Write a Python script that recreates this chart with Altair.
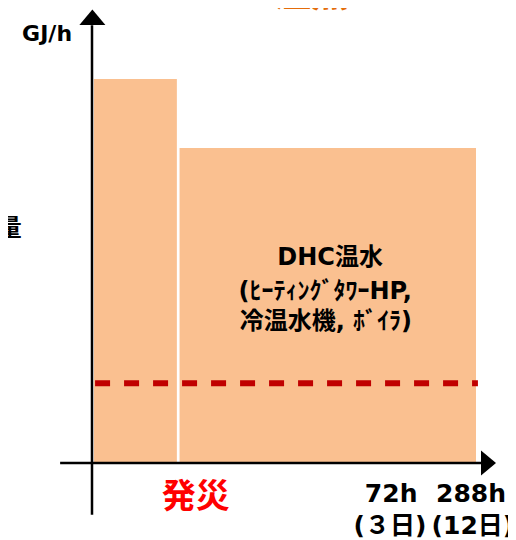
import altair as alt
import pandas as pd

# ---- schematic data (arbitrary units: x = time axis, y = heat GJ/h) ----
bar_names = ["発災直後", "DHC温水"]
bar_x0 = [0.5, 22.8]
bar_x1 = [22.1, 100.0]
bar_heat = [100.0, 82.0]

threshold_x = [0.8, 100.5]
threshold_level = [20.8, 20.8]

axis_x_start, axis_x_end = -8.3, 101.3
axis_y_start, axis_y_end = -13.5, 114.0

bar_text = ["DHC温水", "(ﾋｰﾃｨﾝｸﾞﾀﾜｰHP,", "冷温水機, ﾎﾞｲﾗ)"]
bar_text_x = [62.0, 60.7, 60.9]
bar_text_y = [53.4, 44.5, 36.7]

tick_labels = ["72h", "288h"]
tick_sub = ["(３日)", "(12日)"]
tick_x = [77.9, 98.7]
tick_sub_x = [77.6, 99.2]
tick_y = [-8.1, -8.1]
tick_sub_y = [-16.4, -16.4]

X_DOMAIN = [-21.875, 108.333]
Y_DOMAIN = [-20.052, 118.49]

FONT = "DejaVu Sans, Noto Sans CJK JP"

xs = alt.Scale(domain=X_DOMAIN, nice=False, zero=False)
ys = alt.Scale(domain=Y_DOMAIN, nice=False, zero=False)


def X(f):
    return alt.X(f, type="quantitative", scale=xs, axis=None)


def Y(f):
    return alt.Y(f, type="quantitative", scale=ys, axis=None)


bars_df = pd.DataFrame({"name": bar_names, "x0": bar_x0, "x1": bar_x1,
                        "heat": bar_heat, "base": [0.0, 0.0]})
bars = alt.Chart(bars_df).mark_rect(color="#FAC090").encode(
    x=X("x0"), x2="x1", y=Y("base"), y2="heat")

thr_df = pd.DataFrame({"x": threshold_x, "y": threshold_level})
threshold = alt.Chart(thr_df).mark_line(
    color="#C00000", strokeWidth=6, strokeDash=[15, 14]).encode(x=X("x"), y=Y("y"))

axes_df = pd.DataFrame({
    "x": [axis_x_start, 0.0], "x2": [axis_x_end, 0.0],
    "y": [0.0, axis_y_start], "y2": [0.0, axis_y_end]})
axis_lines = alt.Chart(axes_df).mark_rule(color="black", strokeWidth=2.5).encode(
    x=X("x"), x2="x2", y=Y("y"), y2="y2")

arrow_x = alt.Chart(pd.DataFrame({"x": [103.26], "y": [0.0]})).mark_point(
    shape="M-0.6,-1L0.6,0L-0.6,1Z", filled=True, size=625, color="black",
    opacity=1, strokeWidth=0).encode(x=X("x"), y=Y("y"))
arrow_y = alt.Chart(pd.DataFrame({"x": [0.1], "y": [116.1]})).mark_point(
    shape="M-1,0.6L0,-0.6L1,0.6Z", filled=True, size=676, color="black",
    opacity=1, strokeWidth=0).encode(x=X("x"), y=Y("y"))

inbar_df = pd.DataFrame({"t": bar_text, "x": bar_text_x, "y": bar_text_y})
inbar = alt.Chart(inbar_df).mark_text(
    font=FONT, fontSize=24, fontWeight="bold", color="black", baseline="middle"
).encode(x=X("x"), y=Y("y"), text="t:N")

gj = alt.Chart(pd.DataFrame({"t": ["GJ/h"], "x": [-11.7], "y": [111.8]})).mark_text(
    font=FONT, fontSize=22, fontWeight="bold", color="black", baseline="middle"
).encode(x=X("x"), y=Y("y"), text="t:N")

ryo = alt.Chart(pd.DataFrame({"t": ["量"], "x": [-18.3], "y": [60.9]})).mark_text(
    font=FONT, fontSize=24, fontWeight="bold", color="black", baseline="middle",
    align="right").encode(x=X("x"), y=Y("y"), text="t:N")

title = alt.Chart(pd.DataFrame({"t": ["温熱"], "x": [57.0], "y": [116.75]})).mark_text(
    font=FONT, fontSize=37, fontWeight="bold", color="#E46C0A", baseline="bottom"
).encode(x=X("x"), y=Y("y"), text="t:N")

hassai = alt.Chart(pd.DataFrame({"t": ["発災"], "x": [27.0], "y": [-9.2]})).mark_text(
    font=FONT, fontSize=34, fontWeight="bold", color="#FF0000", baseline="middle"
).encode(x=X("x"), y=Y("y"), text="t:N")

ticks_df = pd.DataFrame({"t": tick_labels, "s": tick_sub, "x": tick_x,
                         "xs": tick_sub_x, "y": tick_y, "ys": tick_sub_y})
ticks = alt.Chart(ticks_df).mark_text(
    font=FONT, fontSize=25, fontWeight="bold", color="black", baseline="middle"
).encode(x=X("x"), y=Y("y"), text="t:N")
ticks_sub = alt.Chart(ticks_df).mark_text(
    font=FONT, fontSize=25, fontWeight="bold", color="black", baseline="middle"
).encode(x=X("xs"), y=Y("ys"), text="s:N")

chart = alt.layer(
    bars, threshold, axis_lines, arrow_x, arrow_y, inbar, gj, ryo, title,
    hassai, ticks, ticks_sub
).properties(
    width=500, height=532, padding=0,
    autosize=alt.AutoSizeParams(type="none")
).configure_view(stroke=None)

chart.save("out.html", embed_options={"renderer": "svg", "actions": False})
